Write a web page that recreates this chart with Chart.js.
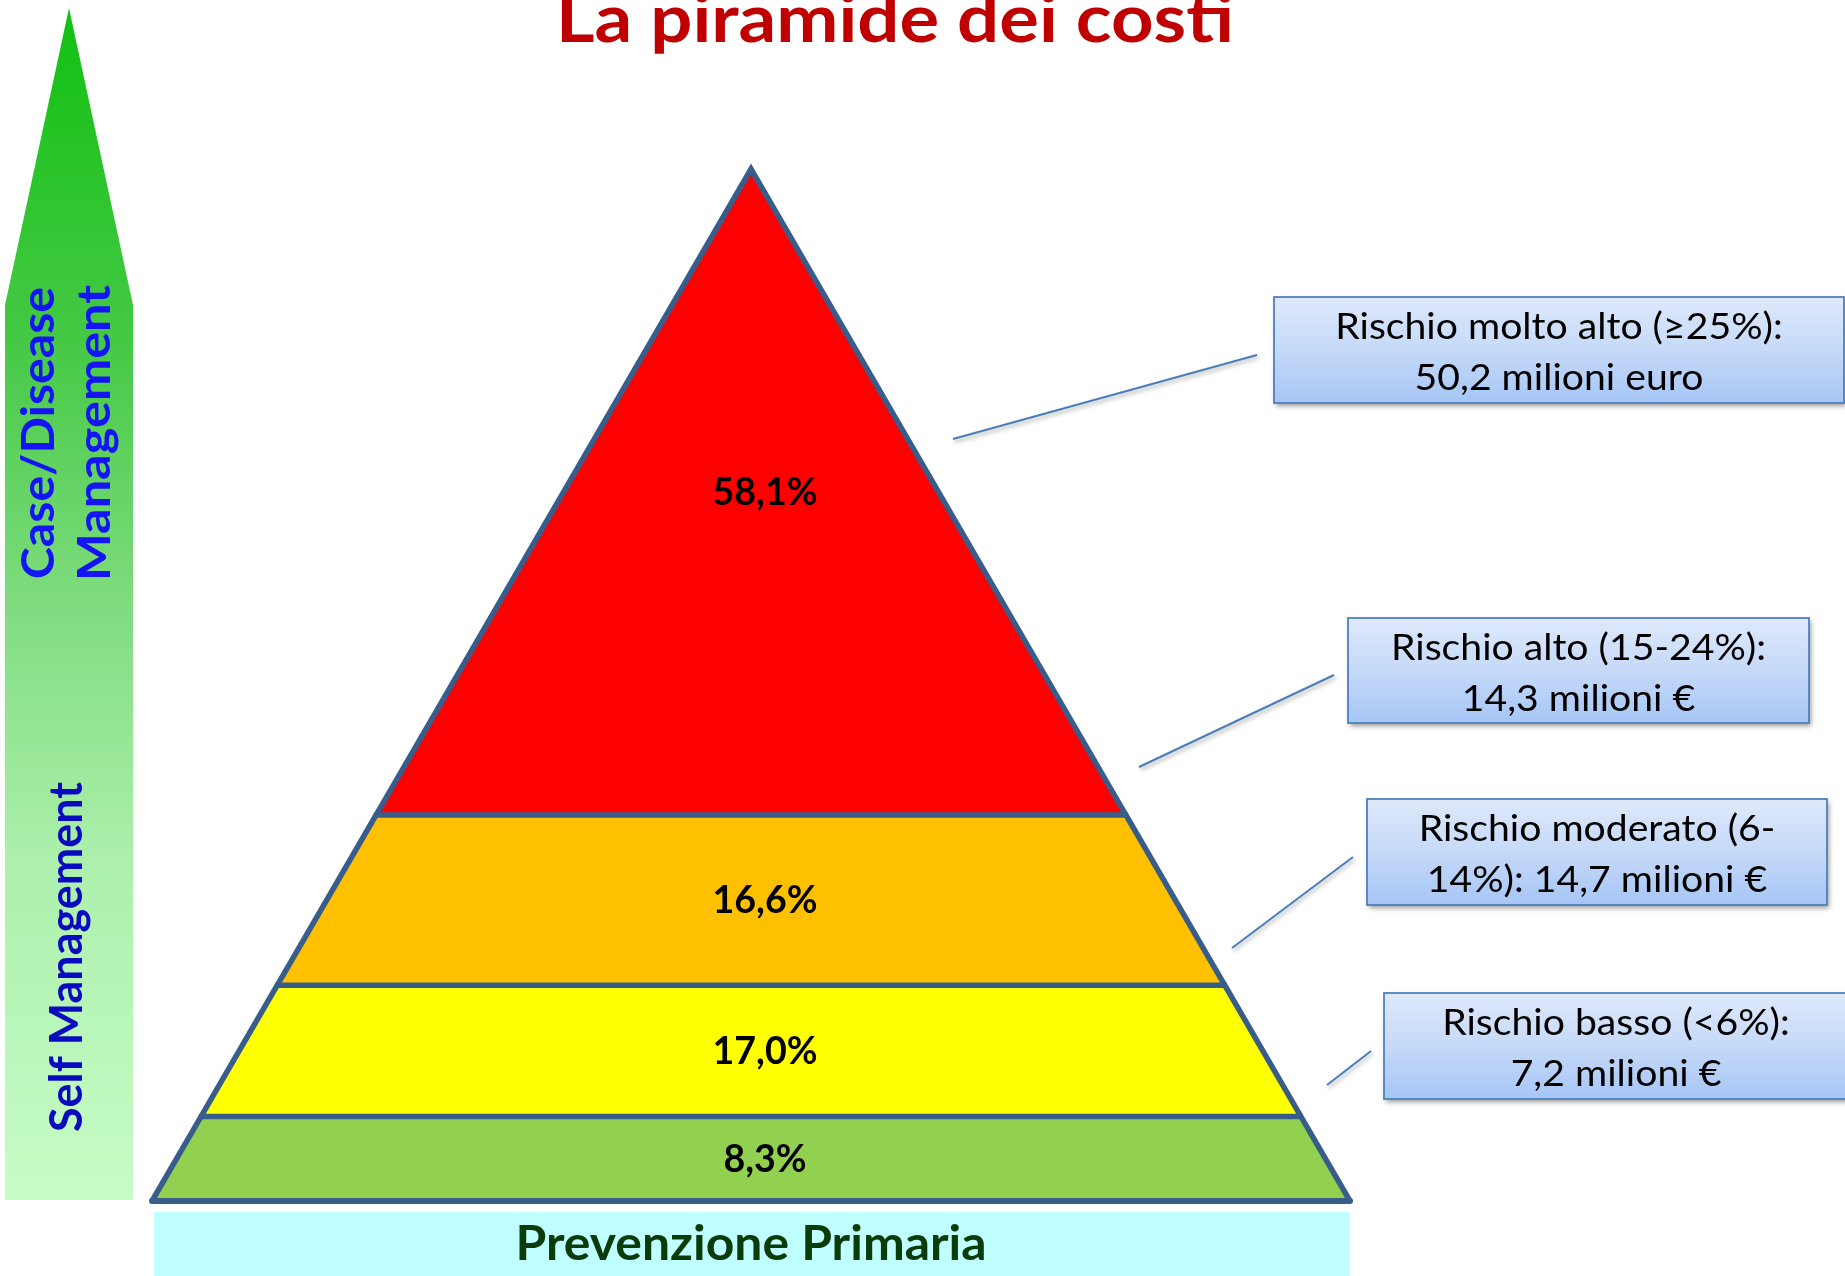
<!DOCTYPE html>
<html>
<head>
<meta charset="utf-8">
<script src="https://cdn.jsdelivr.net/npm/chart.js@4.4.1/dist/chart.umd.min.js"></script>
<style>
html,body{margin:0;padding:0;background:#ffffff;overflow:hidden}
#wrap{width:1845px;height:1276px;position:relative}
</style>
</head>
<body>
<div id="wrap"><canvas id="c" width="1845" height="1276"></canvas></div>
<script>
// ---------------- DATA ----------------
const titleText = 'La piramide dei costi';
const tierNames = ['Rischio basso (<6%)', 'Rischio moderato (6-14%)', 'Rischio alto (15-24%)', 'Rischio molto alto (≥25%)'];
const costSharePct = [8.3, 17.0, 16.6, 58.1];          // share of total cost per tier
const costMillions = [7.2, 14.7, 14.3, 50.2];           // cost in million euro per tier
const levelBounds = [0, 8.2, 20.9, 37.4, 100];          // tier boundaries, % of pyramid height
const sideLabelsTop = ['Case/Disease', 'Management'];
const sideLabelBottom = 'Self Management';
const baseLabel = 'Prevenzione Primaria';

const fmtIt = v => v.toFixed(1).replace('.', ',');
const calloutText = [
  ['Rischio basso (<6%):', fmtIt(costMillions[0]) + ' milioni €'],
  ['Rischio moderato (6-', '14%): ' + fmtIt(costMillions[1]) + ' milioni €'],
  ['Rischio alto (15-24%):', fmtIt(costMillions[2]) + ' milioni €'],
  ['Rischio molto alto (≥25%):', fmtIt(costMillions[3]) + ' milioni euro']
];

// ---------------- STYLE / LAYOUT ----------------
const W = 1845, H = 1276;
const tierColors = ['#92D050', '#FFFF00', '#FFC000', '#FF0000'];
const OUTLINE = '#385D8A';
const PYR = {left: 152, right: 1350, top: 169, bottom: 1201};
const LABEL_DX = 14;
const calloutBoxes = [   // x, y, w, h (pixels) and leader line
  {x: 1384, y: 993, w: 464, h: 106, line: [1327, 1085, 1371, 1051]},
  {x: 1367, y: 799, w: 460, h: 106, line: [1232, 948, 1353, 857]},
  {x: 1348, y: 618, w: 461, h: 105, line: [1139, 767, 1334, 675]},
  {x: 1274, y: 297, w: 570, h: 106, line: [953, 439, 1257, 355]}
];

const halfWidthAt = h => 1 - h / 100;

const tierDatasets = tierColors.map((color, i) => {
  const lo = levelBounds[i], hi = levelBounds[i + 1];
  const pts = [{x: -halfWidthAt(lo), y: lo}, {x: -halfWidthAt(hi), y: hi}];
  if (halfWidthAt(hi) > 0) pts.push({x: halfWidthAt(hi), y: hi});
  pts.push({x: halfWidthAt(lo), y: lo});
  return {
    label: tierNames[i], data: pts, fill: {value: lo},
    backgroundColor: color, borderColor: OUTLINE, borderWidth: 5.5,
    borderJoinStyle: 'miter', pointRadius: 0, tension: 0, clip: false
  };
});
const baseDataset = {
  label: 'base', data: [{x: -1, y: levelBounds[0]}, {x: 1, y: levelBounds[0]}],
  fill: false, borderColor: OUTLINE, borderWidth: 6, borderCapStyle: 'round', pointRadius: 0, clip: false
};

// ---------------- TEXT HELPERS ----------------
function textScale(ctx, font, ref, targetW) {
  ctx.save(); ctx.font = font;
  const w = ctx.measureText(ref).width;
  ctx.restore();
  return targetW / w;
}
function drawText(ctx, text, x, y, font, color, sx, rot) {
  ctx.save();
  ctx.font = font; ctx.fillStyle = color;
  ctx.textAlign = 'center'; ctx.textBaseline = 'alphabetic';
  ctx.translate(x, y);
  if (rot) ctx.rotate(rot);
  ctx.scale(sx, 1);
  ctx.fillText(text, 0, 0);
  ctx.restore();
}

const decor = {
  id: 'decor',
  beforeDraw(chart) {
    const ctx = chart.ctx;
    ctx.save();
    ctx.fillStyle = '#ffffff';
    ctx.fillRect(0, 0, W, H);

    // left arrow
    const g = ctx.createLinearGradient(0, 8, 0, 1200);
    g.addColorStop(0, '#12C012');
    g.addColorStop(0.28, '#45C945');
    g.addColorStop(0.5, '#7FDC7F');
    g.addColorStop(0.72, '#ADF0AD');
    g.addColorStop(1, '#C6FCC6');
    ctx.fillStyle = g;
    ctx.beginPath();
    ctx.moveTo(5, 1200); ctx.lineTo(5, 305); ctx.lineTo(69, 8);
    ctx.lineTo(133, 305); ctx.lineTo(133, 1200); ctx.closePath();
    ctx.fill();

    // base box
    ctx.fillStyle = '#C0FFFF';
    ctx.fillRect(154, 1212, 1196, 64);
    ctx.restore();

    const fb = 'bold 48px Lato';
    drawText(ctx, baseLabel, 751, 1260, fb, '#0A3B0A', textScale(ctx, fb, baseLabel, 471));

    const fs = 'bold 45px Lato';
    const rot = -Math.PI / 2;
    drawText(ctx, sideLabelsTop[0], 54, 433, fs, '#1414F5', textScale(ctx, fs, sideLabelsTop[0], 292), rot);
    drawText(ctx, sideLabelsTop[1], 110, 433, fs, '#1414F5', textScale(ctx, fs, sideLabelsTop[1], 296), rot);
    drawText(ctx, sideLabelBottom, 82, 957, fs, '#0A0ABE', textScale(ctx, fs, sideLabelBottom, 350), rot);

    const ft = 'bold 66px Lato';
    drawText(ctx, titleText, 895, 42, ft, '#C00000', textScale(ctx, ft, titleText, 678));
  },
  afterDatasetsDraw(chart) {
    const ctx = chart.ctx;
    const xs = chart.scales.x, ys = chart.scales.y;

    // percentage labels inside tiers
    const fp = 'bold 38px Lato';
    const sp = textScale(ctx, fp, '58,1%', 105);
    costSharePct.forEach((v, i) => {
      const mid = (levelBounds[i] + levelBounds[i + 1]) / 2;
      drawText(ctx, fmtIt(v) + '%', xs.getPixelForValue(0) + LABEL_DX, ys.getPixelForValue(mid) + 13, fp, '#000000', sp);
    });

    // callouts
    const fc = '36px Lato';
    const sc = textScale(ctx, fc, 'Rischio alto (15-24%):', 375);
    calloutBoxes.forEach((b, i) => {
      ctx.save();
      ctx.shadowColor = 'rgba(0,0,0,0.35)';
      ctx.shadowBlur = 4; ctx.shadowOffsetX = 1.5; ctx.shadowOffsetY = 2.5;
      ctx.strokeStyle = '#4A7EBB'; ctx.lineWidth = 2;
      ctx.beginPath();
      ctx.moveTo(b.line[0], b.line[1]); ctx.lineTo(b.line[2], b.line[3]);
      ctx.stroke();
      ctx.restore();

      ctx.save();
      const g = ctx.createLinearGradient(0, b.y, 0, b.y + b.h);
      g.addColorStop(0, '#DFE9FB');
      g.addColorStop(0.5, '#C5D9F8');
      g.addColorStop(1, '#A6C6F6');
      ctx.shadowColor = 'rgba(0,0,0,0.4)';
      ctx.shadowBlur = 5; ctx.shadowOffsetX = 2; ctx.shadowOffsetY = 3;
      ctx.fillStyle = g;
      ctx.fillRect(b.x, b.y, b.w, b.h);
      ctx.restore();
      ctx.save();
      ctx.strokeStyle = '#4F81BD'; ctx.lineWidth = 1.8;
      ctx.strokeRect(b.x, b.y, b.w, b.h);
      ctx.restore();

      const cx = b.x + b.w / 2;
      drawText(ctx, calloutText[i][0], cx, b.y + 42, fc, '#000000', sc);
      drawText(ctx, calloutText[i][1], cx, b.y + 93, fc, '#000000', sc);
    });
  }
};

new Chart(document.getElementById('c').getContext('2d'), {
  type: 'line',
  data: {datasets: [...tierDatasets, baseDataset]},
  options: {
    responsive: false,
    animation: false,
    events: [],
    layout: {padding: {left: PYR.left, right: W - PYR.right, top: PYR.top, bottom: H - PYR.bottom}},
    scales: {
      x: {type: 'linear', min: -1, max: 1, display: false},
      y: {type: 'linear', min: 0, max: 100, display: false}
    },
    plugins: {
      legend: {display: false},
      tooltip: {enabled: false},
      title: {display: false},
      filler: {drawTime: 'beforeDatasetsDraw'}
    }
  },
  plugins: [decor]
});
</script>
</body>
</html>
